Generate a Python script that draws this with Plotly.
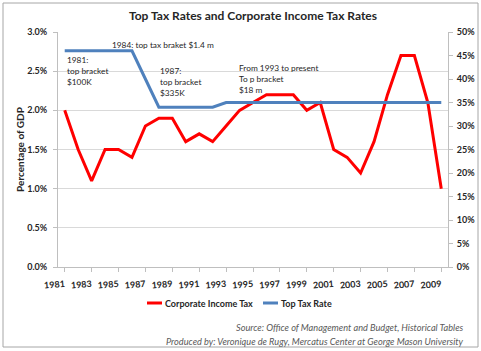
import plotly.graph_objects as go

years = [str(y) for y in range(1981, 2010)]
corporate_tax = [2.0, 1.5, 1.1, 1.5, 1.5, 1.4, 1.8, 1.9, 1.9, 1.6,
                 1.7, 1.6, 1.8, 2.0, 2.1, 2.2, 2.2, 2.2, 2.0, 2.1,
                 1.5, 1.4, 1.2, 1.6, 2.2, 2.7, 2.7, 2.1, 1.0]
top_rate = [46, 46, 46, 46, 46, 46, 40, 34, 34, 34,
            34, 34, 35, 35, 35, 35, 35, 35, 35, 35,
            35, 35, 35, 35, 35, 35, 35, 35, 35]
left_ticks = [0.0, 0.5, 1.0, 1.5, 2.0, 2.5, 3.0]
right_ticks = list(range(0, 55, 5))
x_ticks = [str(y) for y in range(1981, 2010, 2)]

RED = "#ff0000"
BLUE = "#4f81bd"
FONT = "Lato"
W, H = 481, 351
L, R, T, B = 58, 33, 32, 84
PW, PH = W - L - R, H - T - B


def px(x):
    return (x - L) / PW


def py(y):
    return (H - B - y) / PH


fig = go.Figure()
fig.add_trace(go.Scatter(x=years, y=corporate_tax, mode="lines", name="Corporate Income Tax",
                         line=dict(color=RED, width=3), yaxis="y", showlegend=False))
fig.add_trace(go.Scatter(x=years, y=top_rate, mode="lines", name="Top Tax Rate",
                         line=dict(color=BLUE, width=3), yaxis="y2", showlegend=False))

axis_font = dict(family=FONT, size=9, color="#262626", weight="bold")
fig.update_layout(
    width=W, height=H,
    margin=dict(l=L, r=R, t=T, b=B, autoexpand=False),
    paper_bgcolor="white", plot_bgcolor="white",
    font=dict(family=FONT, size=9, color="#262626"),
    title=dict(text="<b>Top Tax Rates and Corporate Income Tax Rates</b>",
               x=0.5, xref="paper", xanchor="center", y=1 - 16 / H, yanchor="middle",
               font=dict(family=FONT, size=12, color="#262626")),
    xaxis=dict(type="category", range=[-0.5, len(years) - 0.5], automargin=False,
               tickmode="array", tickvals=x_ticks, ticktext=x_ticks,
               tickangle=-5, tickfont=axis_font,
               showgrid=False, showline=True, linecolor="#bfbfbf", linewidth=1,
               ticks="outside", ticklen=4, tickcolor="#bfbfbf", zeroline=False,
               ticklabelstandoff=4),
    yaxis=dict(range=[0, 3.0], tickmode="array", tickvals=left_ticks, automargin=False,
               ticktext=[f"{v:.1f}%" for v in left_ticks], tickfont=axis_font,
               showgrid=True, gridcolor="#d9d9d9", gridwidth=1,
               showline=True, linecolor="#bfbfbf", linewidth=1,
               ticks="outside", ticklen=4, tickcolor="#bfbfbf", zeroline=False,
               ticklabelstandoff=4,
               title=dict(text="<b>Percentage of GDP</b>", font=dict(family=FONT, size=10, color="#262626"),
                          standoff=0)),
    yaxis2=dict(range=[0, 50], overlaying="y", side="right", tickmode="array", automargin=False,
                tickvals=right_ticks, ticktext=[f"{v}%" for v in right_ticks], tickfont=axis_font,
                showgrid=False, showline=True, linecolor="#bfbfbf", linewidth=1,
                ticks="outside", ticklen=4, tickcolor="#bfbfbf", zeroline=False,
                ticklabelstandoff=2),
)

ann_font = dict(family=FONT, size=8.3, color="#262626")
notes = [
    ("1981:<br>top bracket<br>$100K", 65, 71),
    ("1984: top tax braket $1.4 m", 110, 45),
    ("1987:<br>top bracket<br>$335K", 158, 82),
    ("From 1993 to present<br>To p bracket<br>$18 m", 237, 79),
]
for text, x, y in notes:
    fig.add_annotation(text=text, x=px(x), y=py(y), xref="paper", yref="paper",
                       xanchor="left", yanchor="middle", align="left", showarrow=False,
                       font=ann_font)

# legend
leg_y = 303
for color, x0, x1, label in [(RED, 147, 162, "Corporate Income Tax"), (BLUE, 263, 278, "Top Tax Rate")]:
    fig.add_shape(type="line", xref="paper", yref="paper", x0=px(x0), x1=px(x1),
                  y0=py(leg_y), y1=py(leg_y), line=dict(color=color, width=3))
    fig.add_annotation(text=f"<b>{label}</b>", x=px(x1 + 0.5), y=py(leg_y), xref="paper", yref="paper",
                       xanchor="left", yanchor="middle", showarrow=False,
                       font=dict(family=FONT, size=9, color="#262626"))

src_font = dict(family=FONT, size=9.2, color="#595959", style="italic")
for text, y in [("Source: Office of Management and Budget, Historical Tables", 327),
                ("Produced by: Veronique de Rugy, Mercatus Center at George Mason University", 341)]:
    fig.add_annotation(text=f"<i>{text}</i>", x=px(466), y=py(y), xref="paper", yref="paper",
                       xanchor="right", yanchor="middle", showarrow=False, font=src_font)

# outer chart border
fig.add_shape(type="rect", xref="paper", yref="paper", x0=px(3), x1=px(478), y0=py(347), y1=py(3),
              line=dict(color="#a6a6a6", width=1), fillcolor="rgba(0,0,0,0)", layer="below")

fig.write_html("out.html")
